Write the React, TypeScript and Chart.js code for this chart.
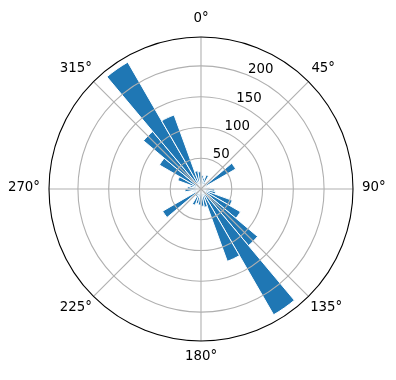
import React, { useEffect, useRef } from "react";
import { Chart, registerables } from "chart.js";

Chart.register(...registerables);

// Direction bins (degrees, start of each 10° sector, clockwise from north)
const binStarts = [
  0, 10, 20, 30, 40, 50, 60, 70, 80, 90, 100, 110,
  120, 130, 140, 150, 160, 170, 180, 190, 200, 210, 220, 230,
  240, 250, 260, 270, 280, 290, 300, 310, 320, 330, 340, 350,
];
// Bar heights per sector
const counts = [
  22, 18, 24, 12, 14, 65, 10, 8, 14, 22, 24, 54,
  74, 120, 236, 125, 30, 28, 26, 24, 28, 14, 12, 72,
  10, 14, 26, 22, 18, 40, 78, 122, 238, 128, 30, 28,
];
// Radial ticks
const rTicks = [50, 100, 150, 200];
// Angular ticks
const thetaTicks = [0, 45, 90, 135, 180, 225, 270, 315];
const rMax = 247;

const FONT = '"DejaVu Sans", sans-serif';

const overlayPlugin = {
  id: "polarOverlay",
  afterDatasetsDraw(chart: any) {
    const scale = chart.scales.r;
    const ctx = chart.ctx;
    const cx = scale.xCenter;
    const cy = scale.yCenter;
    const R = scale.drawingArea;
    ctx.save();
    // grid circles
    ctx.strokeStyle = "#b0b0b0";
    ctx.lineWidth = 1.1;
    for (const v of rTicks) {
      const r = scale.getDistanceFromCenterForValue(v);
      ctx.beginPath();
      ctx.arc(cx, cy, r, 0, Math.PI * 2);
      ctx.stroke();
    }
    // angle lines
    for (const t of thetaTicks) {
      const a = (t * Math.PI) / 180;
      ctx.beginPath();
      ctx.moveTo(cx, cy);
      ctx.lineTo(cx + R * Math.sin(a), cy - R * Math.cos(a));
      ctx.stroke();
    }
    // outer spine
    ctx.strokeStyle = "#000000";
    ctx.lineWidth = 1.1;
    ctx.beginPath();
    ctx.arc(cx, cy, R, 0, Math.PI * 2);
    ctx.stroke();

    // radial tick labels at 22.5°
    ctx.fillStyle = "#000000";
    ctx.font = `13.33px ${FONT}`;
    ctx.textAlign = "left";
    ctx.textBaseline = "bottom";
    const la = (22.5 * Math.PI) / 180;
    for (const v of rTicks) {
      const r = scale.getDistanceFromCenterForValue(v);
      ctx.fillText(String(v), cx + r * Math.sin(la), cy - r * Math.cos(la) + 1);
    }

    // angular labels
    ctx.textAlign = "center";
    ctx.textBaseline = "middle";
    const r0 = R + 9;
    const h = 16;
    for (const t of thetaTicks) {
      const a = (t * Math.PI) / 180;
      const txt = `${t}°`;
      const w = ctx.measureText(txt).width;
      const px = cx + r0 * Math.sin(a) + (w / 2) * Math.sin(a);
      const py = cy - r0 * Math.cos(a) - (h / 2) * Math.cos(a);
      ctx.fillText(txt, px, py - 1);
    }
    ctx.restore();
  },
};

export default function App() {
  const ref = useRef<HTMLCanvasElement | null>(null);
  useEffect(() => {
    document.body.style.margin = "0";
    const canvas = ref.current!;
    const chart = new Chart(canvas, {
      type: "polarArea",
      data: {
        labels: binStarts.map((b) => `${b}°`),
        datasets: [
          {
            data: counts,
            backgroundColor: "#1f77b4",
            borderColor: "#ffffff",
            borderWidth: 1,
          },
        ],
      },
      options: {
        responsive: false,
        animation: false,
        devicePixelRatio: 1,
        layout: { padding: { left: 49, right: 43, top: 37, bottom: 39 } },
        plugins: { legend: { display: false }, tooltip: { enabled: false } },
        scales: {
          r: {
            min: 0,
            max: rMax,
            startAngle: 0,
            ticks: { display: false },
            grid: { display: false },
            angleLines: { display: false },
            pointLabels: { display: false },
          },
        },
      },
      plugins: [overlayPlugin],
    });
    return () => chart.destroy();
  }, []);
  return (
    <div style={{ position: "absolute", left: 0, top: 0, width: 396, height: 380, background: "#fff" }}>
      <canvas ref={ref} width={396} height={380} style={{ width: 396, height: 380 }} />
    </div>
  );
}
